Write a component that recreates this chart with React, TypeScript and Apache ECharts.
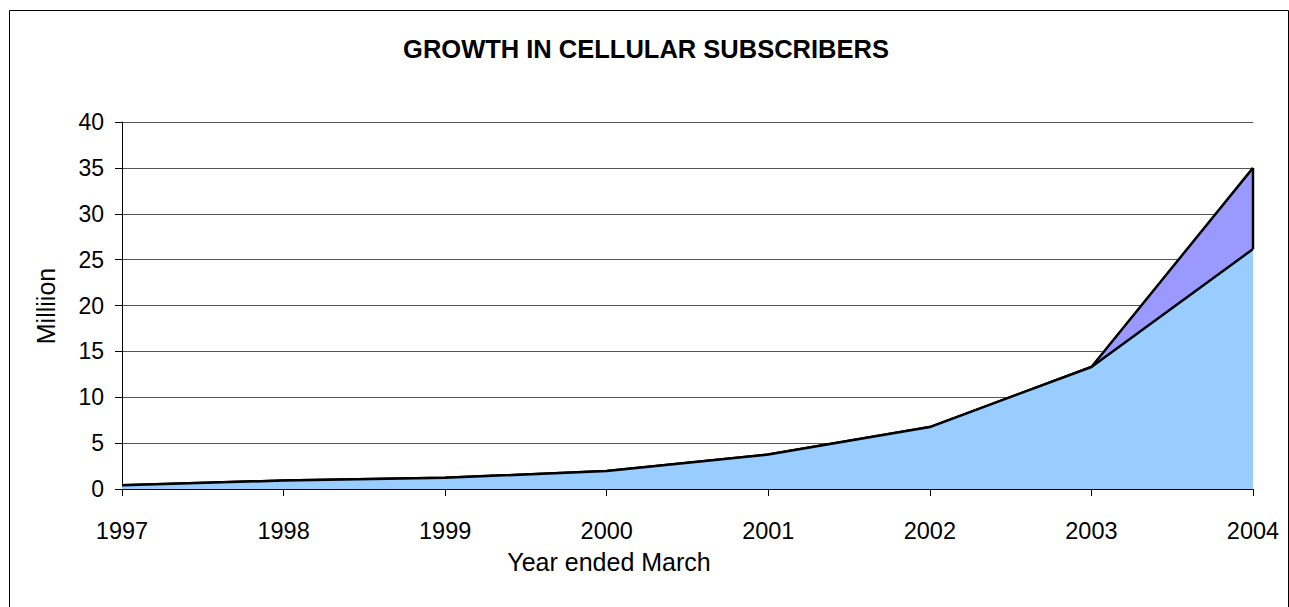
import React, { useEffect, useRef } from "react";
import * as echarts from "echarts";

const years = ["1997", "1998", "1999", "2000", "2001", "2002", "2003", "2004"];
const baseSubscribers = [0.4, 0.92, 1.22, 1.95, 3.75, 6.75, 13.3, 26.15];
const extraSubscribers = [0, 0, 0, 0, 0, 0, 0, 8.85];
const yTicks = { min: 0, max: 40, interval: 5 };

const FONT = "Liberation Sans, Arial, sans-serif";

export default function App() {
  const ref = useRef<HTMLDivElement>(null);
  useEffect(() => {
    document.body.style.margin = "0";
    const chart = echarts.init(ref.current!, null, { renderer: "svg" });
    chart.setOption({
      animation: false,
      backgroundColor: "#ffffff",
      textStyle: { fontFamily: FONT },
      graphic: [
        {
          type: "rect",
          left: 7,
          top: 8,
          shape: { width: 1279, height: 620 },
          style: { fill: "none", stroke: "#000", lineWidth: 1 },
          silent: true,
        },
        {
          type: "text",
          x: 646,
          y: 49,
          style: {
            text: "GROWTH IN CELLULAR SUBSCRIBERS",
            fontSize: 25.5,
            fontWeight: "bold",
            fontFamily: FONT,
            fill: "#000",
            textAlign: "center",
            textVerticalAlign: "middle",
          },
        },
        {
          type: "line",
          shape: { x1: 1253, y1: 168, x2: 1253, y2: 249 },
          style: { stroke: "#000", lineWidth: 2.5 },
          z: 100,
        },
        {
          type: "text",
          x: 609,
          y: 562,
          style: {
            text: "Year ended March",
            fontSize: 25,
            fontFamily: FONT,
            fill: "#000",
            textAlign: "center",
            textVerticalAlign: "middle",
          },
        },
        {
          type: "text",
          x: 46,
          y: 306,
          rotation: Math.PI / 2,
          style: {
            text: "Milliion",
            fontSize: 25,
            fontFamily: FONT,
            fill: "#000",
            textAlign: "center",
            textVerticalAlign: "middle",
          },
        },
      ],
      grid: { left: 122, right: 36, top: 122, bottom: 118, containLabel: false },
      xAxis: {
        type: "category",
        data: years,
        boundaryGap: false,
        axisLine: { lineStyle: { color: "#000", width: 1 } },
        axisTick: { show: true, length: 7, lineStyle: { color: "#000" } },
        axisLabel: { color: "#000", fontSize: 23.5, fontFamily: FONT, margin: 30, showMaxLabel: true, showMinLabel: true },
        splitLine: { show: false },
      },
      yAxis: {
        type: "value",
        min: yTicks.min,
        max: yTicks.max,
        interval: yTicks.interval,
        axisLine: { show: true, lineStyle: { color: "#000", width: 1 } },
        axisTick: { show: true, length: 7, lineStyle: { color: "#000" } },
        axisLabel: { color: "#000", fontSize: 23, fontFamily: FONT, margin: 18 },
        splitLine: { show: true, lineStyle: { color: "#555", width: 1 } },
      },
      series: [
        {
          name: "base",
          type: "line",
          stack: "total",
          data: baseSubscribers,
          symbol: "none",
          lineStyle: { color: "#000", width: 2.5 },
          areaStyle: { color: "#99CCFF", opacity: 1 },
          z: 3,
        },
        {
          name: "extra",
          type: "line",
          stack: "total",
          data: extraSubscribers,
          symbol: "none",
          lineStyle: { color: "#000", width: 2.5 },
          areaStyle: { color: "#9999FF", opacity: 1 },
          z: 2,
        },
      ],
    });
    return () => chart.dispose();
  }, []);
  return <div ref={ref} style={{ position: "absolute", left: 0, top: 0, width: 1289, height: 607 }} />;
}
